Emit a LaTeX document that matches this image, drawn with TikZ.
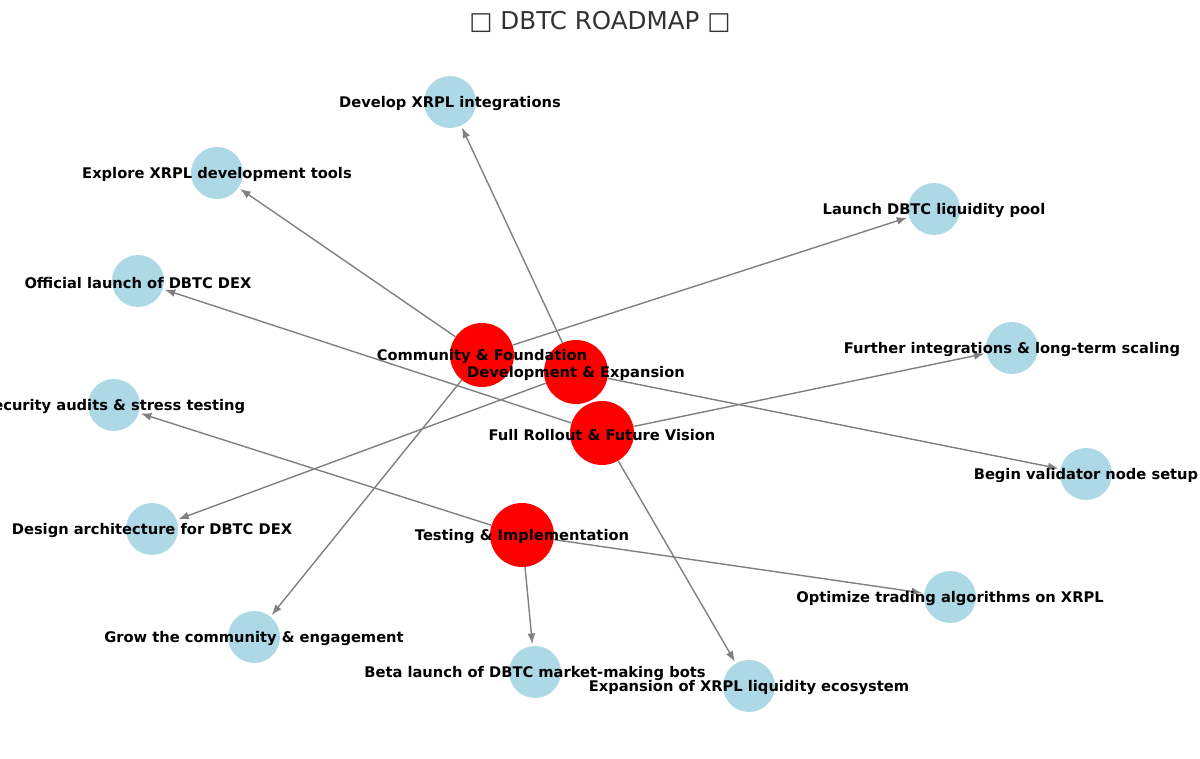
\documentclass[tikz,border=0pt]{standalone}
\usepackage{fontspec}
\setmainfont{DejaVu Sans}
\usetikzlibrary{arrows.meta}
\definecolor{lb}{RGB}{173,216,230}
\begin{document}
\begin{tikzpicture}[x=0.02cm,y=-0.02cm,
  phase/.style={circle,fill=red,minimum size=1.28cm,inner sep=0},
  task/.style={circle,fill=lb,minimum size=1.04cm,inner sep=0},
  lbl/.style={font=\fontsize{8.35}{10}\selectfont\bfseries,yshift=-1pt},
  edge/.style={draw=gray,line width=0.8pt,-{Latex[length=6pt,width=4.5pt]},shorten >=1pt}]
\useasboundingbox (0,0) rectangle (1200,759);
\node[font=\fontsize{14}{17}\selectfont,text=black!80] (title) at (600,22) {□ DBTC ROADMAP □};
\node[task] (xi) at (450,102) {};
\node[task] (ex) at (217,173) {};
\node[task] (lp) at (934,209) {};
\node[task] (od) at (138,281) {};
\node[task] (fi) at (1012,348) {};
\node[task] (sa) at (114,405) {};
\node[task] (vn) at (1086,474) {};
\node[task] (da) at (152,529) {};
\node[task] (ot) at (950,597) {};
\node[task] (gc) at (254,637) {};
\node[task] (bl) at (535,672) {};
\node[task] (el) at (749,686) {};
\node[phase] (cf) at (482,355) {};
\node[phase] (de) at (576,372) {};
\node[phase] (fr) at (602,433) {};
\node[phase] (ti) at (522,535) {};
\draw[edge] (cf) -- (ex);
\draw[edge] (cf) -- (lp);
\draw[edge] (cf) -- (gc);
\draw[edge] (de) -- (xi);
\draw[edge] (de) -- (da);
\draw[edge] (de) -- (vn);
\draw[edge] (fr) -- (od);
\draw[edge] (fr) -- (fi);
\draw[edge] (fr) -- (el);
\draw[edge] (ti) -- (sa);
\draw[edge] (ti) -- (ot);
\draw[edge] (ti) -- (bl);
\node[lbl] (txi) at (xi) {Develop XRPL integrations};
\node[lbl] (tex) at (ex) {Explore XRPL development tools};
\node[lbl] (tlp) at (lp) {Launch DBTC liquidity pool};
\node[lbl] (tod) at (od) {Official launch of DBTC DEX};
\node[lbl] (tfi) at (fi) {Further integrations \& long-term scaling};
\node[lbl] (tsa) at (sa) {Security audits \& stress testing};
\node[lbl] (tvn) at (vn) {Begin validator node setup};
\node[lbl] (tda) at (da) {Design architecture for DBTC DEX};
\node[lbl] (tot) at (ot) {Optimize trading algorithms on XRPL};
\node[lbl] (tgc) at (gc) {Grow the community \& engagement};
\node[lbl] (tbl) at (bl) {Beta launch of DBTC market-making bots};
\node[lbl] (tel) at (el) {Expansion of XRPL liquidity ecosystem};
\node[lbl] (tcf) at (cf) {Community \& Foundation};
\node[lbl] (tde) at (de) {Development \& Expansion};
\node[lbl] (tfr) at (fr) {Full Rollout \& Future Vision};
\node[lbl] (tti) at (ti) {Testing \& Implementation};
\end{tikzpicture}
\end{document}
